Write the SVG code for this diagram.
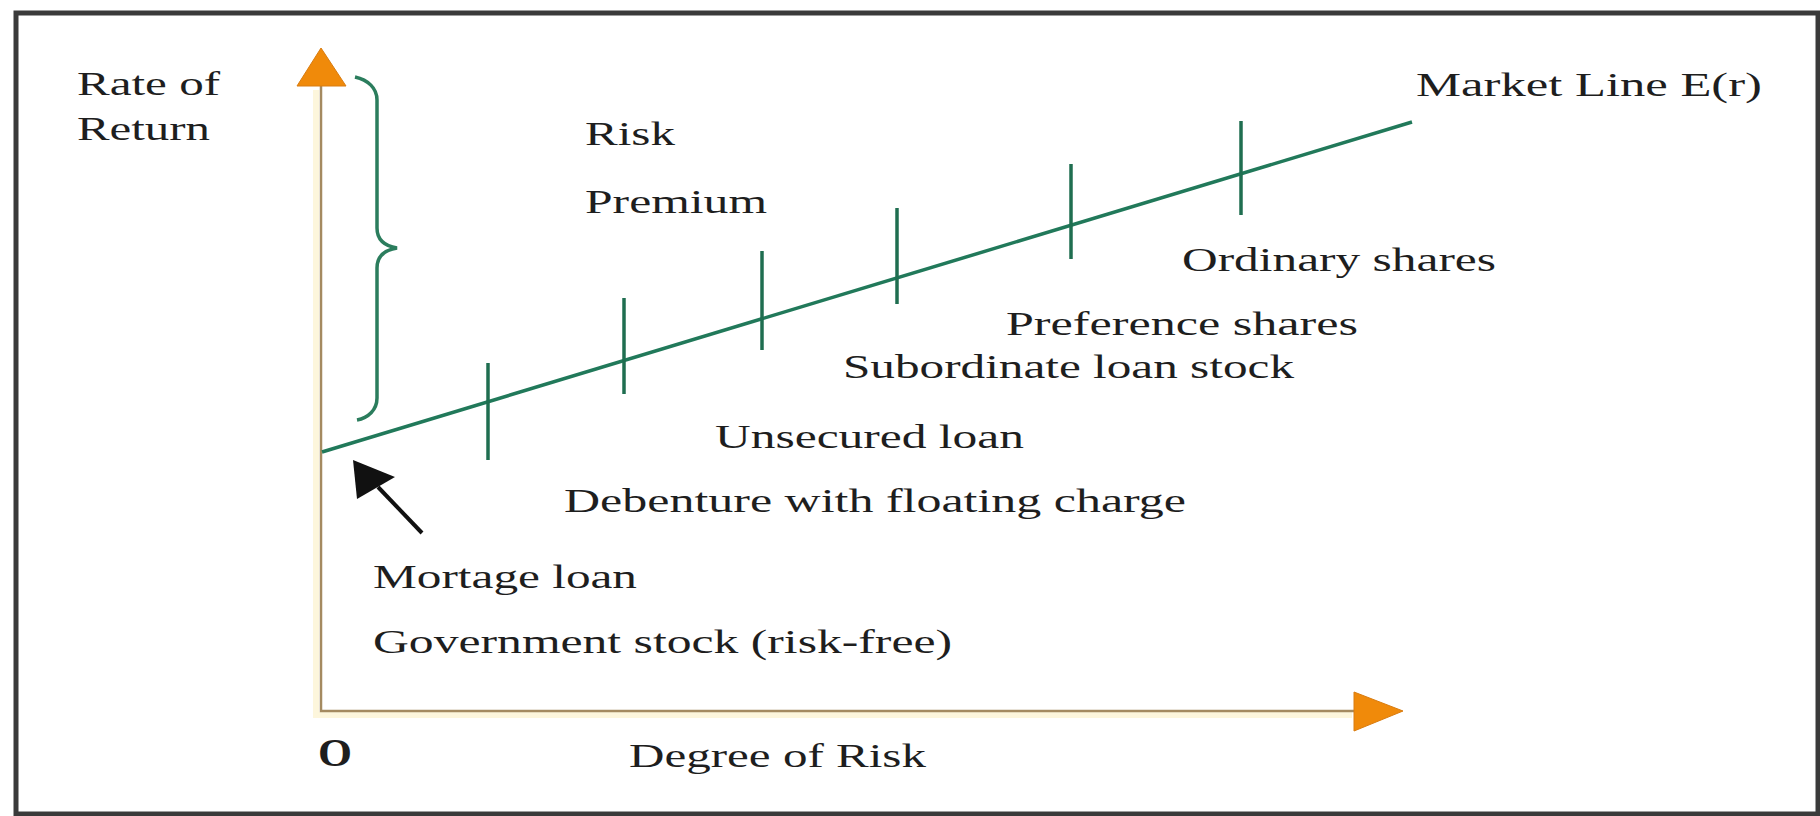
<svg xmlns="http://www.w3.org/2000/svg" width="1820" height="816" viewBox="0 0 1820 816">
<style>
.t{font-family:"Liberation Serif","Times New Roman",serif;font-size:33px;fill:#1e1e1e}
.axis{stroke:#a48a60;stroke-width:2.5;fill:none}
.glow{stroke:#fdf6dc;stroke-width:6;fill:none}
.ml{stroke:#21795a;stroke-width:3.5;fill:none}
.tick{stroke:#1f6e50;stroke-width:3.5}
.head{fill:#f08a0a;stroke:#d97c10;stroke-width:1}
</style>
<rect x="0" y="0" width="1820" height="816" fill="#ffffff"/>
<rect id="frame" x="16" y="13" width="1802" height="801" fill="#ffffff" stroke="#3a3a3a" stroke-width="5"/>
<g id="axes">
<polyline class="glow" points="316,90 316,715 1352,715"/>
<polyline class="axis" points="321,86 321,711 1354,711"/>
<polygon class="head" points="321,48 297,86 346,86"/>
<polygon class="head" points="1403,711 1354,692 1354,731"/>
</g>
<g id="connectors">
<line class="ml" x1="322" y1="452" x2="1412" y2="122"/>
<path id="brace" d="M355,77 C368,80 377,88 377,100 L377,228 C377,240 385,246 397,248 C385,250 377,256 377,268 L377,398 C377,410 368,418 357,420" fill="none" stroke="#2b7d5d" stroke-width="3.5"/>
<g id="ticks">
<line class="tick" x1="488" y1="363" x2="488" y2="460"/>
<line class="tick" x1="624" y1="298" x2="624" y2="394"/>
<line class="tick" x1="762" y1="251" x2="762" y2="350"/>
<line class="tick" x1="897" y1="208" x2="897" y2="304"/>
<line class="tick" x1="1071" y1="164" x2="1071" y2="259"/>
<line class="tick" x1="1241" y1="121" x2="1241" y2="215"/>
</g>
<g id="pointer">
<line x1="422" y1="533" x2="378" y2="487" stroke="#111" stroke-width="4"/>
<polygon points="353,460 357,499 395,477" fill="#111"/>
</g>
</g>
<g id="label-rate"><text class="t" x="77" y="95" textLength="143" lengthAdjust="spacingAndGlyphs">Rate of</text><text class="t" x="77" y="140" textLength="133" lengthAdjust="spacingAndGlyphs">Return</text></g>
<g id="label-risk-premium"><text class="t" x="585" y="145" textLength="90" lengthAdjust="spacingAndGlyphs">Risk</text><text class="t" x="585" y="213" textLength="182" lengthAdjust="spacingAndGlyphs">Premium</text></g>
<g id="label-market"><text class="t" x="1416" y="96" textLength="346" lengthAdjust="spacingAndGlyphs">Market Line E(r)</text></g>
<g id="label-ordinary"><text class="t" x="1182" y="271" textLength="314" lengthAdjust="spacingAndGlyphs">Ordinary shares</text></g>
<g id="label-preference"><text class="t" x="1006" y="335" textLength="352" lengthAdjust="spacingAndGlyphs">Preference shares</text></g>
<g id="label-subordinate"><text class="t" x="843" y="378" textLength="451" lengthAdjust="spacingAndGlyphs">Subordinate loan stock</text></g>
<g id="label-unsecured"><text class="t" x="715" y="448" textLength="309" lengthAdjust="spacingAndGlyphs">Unsecured loan</text></g>
<g id="label-debenture"><text class="t" x="564" y="512" textLength="622" lengthAdjust="spacingAndGlyphs">Debenture with floating charge</text></g>
<g id="label-mortgage"><text class="t" x="373" y="588" textLength="264" lengthAdjust="spacingAndGlyphs">Mortage loan</text></g>
<g id="label-government"><text class="t" x="373" y="653" textLength="579" lengthAdjust="spacingAndGlyphs">Government stock (risk-free)</text></g>
<g id="label-origin"><text class="t" x="318" y="766" style="font-size:40px;font-weight:bold" textLength="34" lengthAdjust="spacingAndGlyphs">O</text></g>
<g id="label-degree"><text class="t" x="629" y="767" textLength="297" lengthAdjust="spacingAndGlyphs">Degree of Risk</text></g>
</svg>
